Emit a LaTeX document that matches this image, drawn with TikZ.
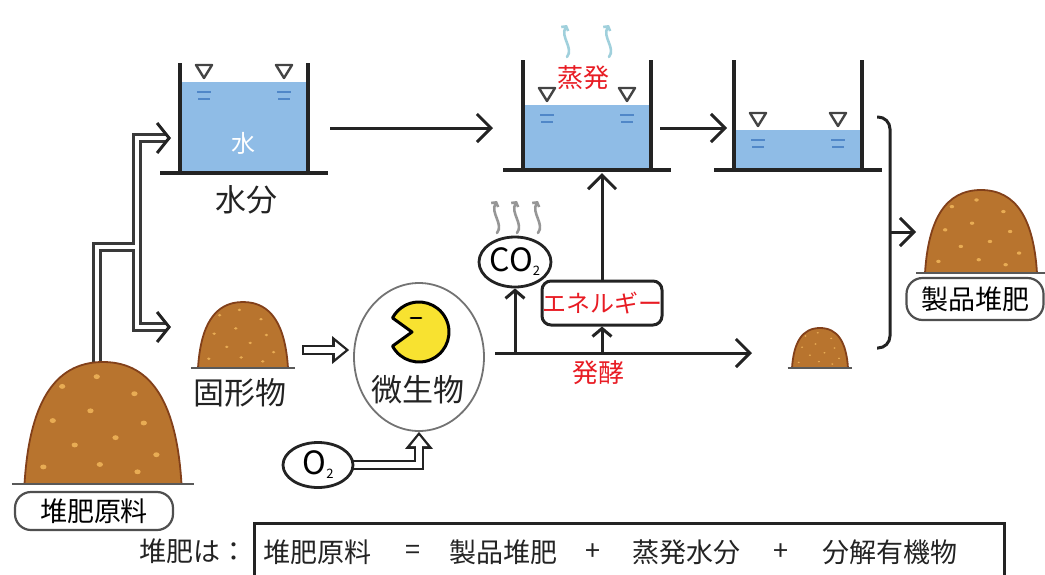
\documentclass[tikz,border=0pt]{standalone}
\usepackage{fontspec}
\setmainfont{Noto Sans CJK JP}
\usetikzlibrary{arrows.meta,shapes.geometric,calc,backgrounds}

\definecolor{ink}{RGB}{35,35,35}
\definecolor{water}{RGB}{143,188,230}
\definecolor{ripple}{RGB}{80,135,200}
\definecolor{soil}{RGB}{184,116,46}
\definecolor{soilrim}{RGB}{130,64,26}
\definecolor{grain}{RGB}{232,172,84}
\definecolor{note}{RGB}{232,28,36}
\definecolor{pacman}{RGB}{248,226,48}
\definecolor{vapour}{RGB}{160,208,220}
\definecolor{fume}{RGB}{150,150,150}

\newcommand\fsz[1]{\fontsize{#1}{#1}\selectfont}

\begin{document}
\begin{tikzpicture}[x=1pt, y=-1pt,
  wire/.style={draw=ink, line width=3pt},
  arr/.style={wire, -{Straight Barb[length=14pt,width=28pt]}},
  arrs/.style={wire, -{Straight Barb[length=8pt,width=19pt]}},
  barb/.style={wire, -{Straight Barb[length=12pt,width=30pt]}},
  pipe/.style={draw=ink!90, line width=2.5pt, double=white, double distance=4.4pt},
  blk/.style={draw=ink, line width=10.5pt, -{Triangle[length=17pt,width=28pt,line width=0pt]}},
  blkin/.style={draw=white, line width=5.6pt, -{Triangle[length=10.5pt,width=17pt,line width=0pt]}},
  lbl/.style={inner sep=0pt, text=ink, font=\fsz{31}},
  redtxt/.style={inner sep=0pt, text=note, font=\fsz{26}},
  tag/.style={draw=ink!80, line width=2.2pt, rounded corners=16pt, fill=white, inner sep=0pt, font=\fsz{27}},
  bubble/.style={ellipse, draw=ink, line width=2.8pt, fill=white, inner sep=0pt, font=\fsz{32}},
  eq/.style={inner sep=0pt, text=ink, font=\fsz{27}},
  pics/tank/.style={code={
    \fill[water] (-64,0) rectangle (64,-#1);
    \foreach \s in {-40,40}{
      \draw[ink!85, line width=2.4pt, line join=round] (\s,-#1-4) -- ++(-8,-13) -- ++(16,0) -- cycle;
      \draw[ripple, line width=2.4pt] (\s-7,-#1+10) -- ++(14,0) (\s-6,-#1+17) -- ++(12,0);
    }
    \draw[ink, line width=3.8pt] (-64,-110) -- (-64,0) (64,-110) -- (64,0);
    \draw[ink, line width=4.4pt] (-84,0) -- (84,0);
  }},
  pics/heap/.style={code={
    \draw[fill=soil, draw=soilrim, line width=1.8pt] (-50,0) .. controls (-47,-64) and (-32,-100) .. (0,-100)
      .. controls (32,-100) and (47,-64) .. (50,0) -- cycle;
    \foreach \a/\b in {-26/-80, -4/-88, 20/-74, -32/-52, -8/-60, 26/-50, -18/-32, 8/-38, 34/-24, -38/-14, -2/-16, 22/-10}
      \fill[grain] (\a,\b) circle[radius=2];
    \draw[black!65, line width=2.2pt] (-58,0) -- (58,0);
    \coordinate (-top) at (0,-100);
  }},
  pics/wisp/.style={code={
    \draw[#1, line width=2.6pt, line cap=round, -{Straight Barb[length=3pt,width=8pt]}]
      (0,0) .. controls (7,-9) and (-7,-20) .. (0,-32);
  }}]
\useasboundingbox (0,0) rectangle (1045,574);

% tanks, water level above the floor
\pic at (244,173) {tank=91};
\pic at (587,170) {tank=65};
\pic at (798,170) {tank=40};
\node[lbl, text=white, font=\fsz{24}] (water) at (243,143) {水};
\node[lbl] (moisture) at (246,200) {水分};
\node[redtxt] (evap) at (583,78) {蒸発};
\foreach \x in {567,609} \pic at (\x,57) {wisp=vapour};

% compost heaps
\pic[xscale=1.57, yscale=1.22] (raw) at (103,484) {heap};
\pic[xscale=.90, yscale=.66] (solid) at (243,368) {heap};
\pic[xscale=.56, yscale=.40] (small) at (820,368) {heap};
\pic[xscale=1.12, yscale=.83] (product) at (981,273) {heap};
\node[tag, minimum width=158, minimum height=38] (rawtag) at (94,511) {堆肥原料};
\node[tag, minimum width=137, minimum height=42] (producttag) at (975,299) {製品堆肥};
\node[lbl] (solidtxt) at (240,393) {固形物};

% microbe
\node[ellipse, draw=black!55, line width=1.8pt, fill=white, minimum width=130, minimum height=148] (microbe) at (419,357) {};
\coordinate (pac) at (419,332);
\filldraw[fill=pacman, draw=black, line width=3pt, line join=round]
  (pac) ++(152:30) arc[start angle=152, end angle=-152, radius=30] -- ($(pac)+(-7,0)$) -- cycle;
\draw[black, line width=2.8pt, line cap=round] ([shift={(-8,-14)}]pac) -- ++(10,0);
\node[lbl] (microbetxt) at (418,390) {微生物};

\node[bubble, minimum width=72, minimum height=50] (co2) at (515,262) {CO\raisebox{-4pt}{\fsz{13}2}};
\node[bubble, minimum width=70, minimum height=45] (oxy) at (318,465) {O\raisebox{-4pt}{\fsz{13}2}};
\foreach \x in {497,517,538} \pic at (\x,233) {wisp=fume};
\node[wire, rounded corners=9pt, minimum width=120, minimum height=44, redtxt, font=\fsz{24}] (energy) at (602,303) {エネルギー};
\node[redtxt] (fermtxt) at (598,373) {発酵};

% flow
\coordinate (t1out) at (330,128);
\coordinate (t2in) at (493,128);
\coordinate (t2out) at (660,128);
\coordinate (t3in) at (727,128);
\coordinate (t2floor) at (602,173);
\coordinate (ferm) at (495,353);
\coordinate (fermend) at (752,353);
\draw[arr] (t1out) -- (t2in);
\draw[arr] (t2out) -- (t3in);
\draw[arr] (ferm) -- (fermend);
\draw[arrs] (co2 |- ferm) -- (co2.south);
\draw[arrs] (energy |- ferm) -- (energy.south);
\draw[arr] (energy.north) -- (energy |- t2floor);

% bracket into the product
\coordinate (brtop) at (877,117);
\coordinate (brmid) at (890,232);
\coordinate (brbot) at (877,348);
\coordinate (prodin) at (916,232);
\draw[wire, rounded corners=12pt] (brtop) -| (brmid) |- (brbot);
\draw[arr] (brmid) -- (prodin);

% hollow arrows
\coordinate (h0) at (302,350);
\draw[blk, shorten >=4pt] (h0) -- (microbe.west |- h0);
\draw[blkin, shorten <=2.4pt, shorten >=7.6pt] (h0) -- (microbe.west |- h0);

% raw material splits into water and solids
\coordinate (split) at (137,247);
\coordinate (upend) at (166,138);
\coordinate (uptip) at (171,138);
\coordinate (downend) at (166,327);
\coordinate (downtip) at (171,327);
\begin{scope}[on background layer]
\draw[pipe] (raw-top) ++(-6,12) |- (split) (upend) -| (split) |- (downend);
\draw[blk] (oxy.center) -| (microbe.south);
\draw[blkin, shorten >=3.6pt] (oxy.center) -| (microbe.south);
\end{scope}
\draw[barb] ([xshift=-1pt]uptip) -- (uptip);
\draw[barb] ([xshift=-1pt]downtip) -- (downtip);

% balance
\node[eq] (lead) at (193,551) {堆肥は：};
\node[draw=ink, line width=2.8pt, minimum width=750, minimum height=76, anchor=north west, inner sep=0pt] (eqbox) at (253,522) {};
\foreach \x/\t [count=\i] in {317/堆肥原料, 413/=, 503/製品堆肥, 593/+, 686/蒸発水分, 781/+, 890/分解有機物}
  \node[eq] (term\i) at (\x,552) {\t};
\end{tikzpicture}
\end{document}
